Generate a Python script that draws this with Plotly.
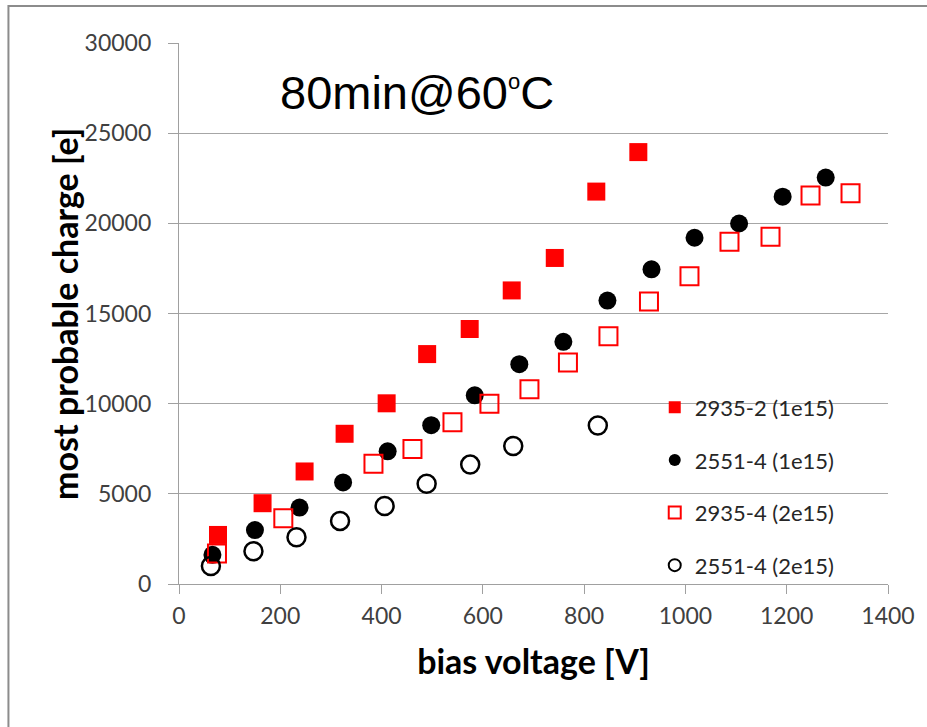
import plotly.graph_objects as go

# ---- data ----
v_2935_2 = [77, 165, 248, 327, 410, 490, 574, 657, 742, 824, 907]
q_2935_2 = [2720, 4480, 6240, 8330, 10020, 12750, 14140, 16280, 18080, 21760, 23950]

v_2551_4a = [66, 150, 238, 324, 412, 498, 584, 672, 759, 846, 933, 1018, 1106, 1192, 1277]
q_2551_4a = [1620, 2990, 4240, 5630, 7360, 8810, 10460, 12190, 13430, 15720, 17450, 19200, 19990, 21480, 22540]

v_2935_4 = [75, 206, 384, 461, 540, 613, 692, 768, 848, 928, 1008, 1087, 1168, 1247, 1326]
q_2935_4 = [1690, 3645, 6670, 7490, 8970, 10000, 10800, 12285, 13735, 15665, 17060, 18975, 19250, 21540, 21670]

v_2551_4b = [63, 147, 232, 318, 406, 489, 575, 660, 827]
q_2551_4b = [1000, 1820, 2590, 3500, 4330, 5560, 6620, 7650, 8790]

names = ["2935-2 (1e15)", "2551-4 (1e15)", "2935-4 (2e15)", "2551-4 (2e15)"]
x_ticks = [0, 200, 400, 600, 800, 1000, 1200, 1400]
y_ticks = [0, 5000, 10000, 15000, 20000, 25000, 30000]
y_ticktext = [str(t) for t in y_ticks]
x_ticktext = [str(t) for t in x_ticks]

W, H = 927, 727
ML, MR, MT, MB = 179, 33, 43, 143

fig = go.Figure()
fig.add_trace(go.Scatter(x=v_2935_2, y=q_2935_2, mode="markers", name=names[0], legendgroup="a",
                         marker=dict(symbol="square", size=18, color="#ff0000", line=dict(width=0))))
fig.add_trace(go.Scatter(x=v_2551_4a, y=q_2551_4a, mode="markers", name=names[1], legendgroup="b",
                         marker=dict(symbol="circle", size=18, color="#000000", line=dict(width=0))))
fig.add_trace(go.Scatter(x=v_2935_4, y=q_2935_4, mode="markers", name=names[2], legendgroup="c",
                         marker=dict(symbol="square-open", size=18, color="#ff0000", line=dict(width=2))))
fig.add_trace(go.Scatter(x=v_2551_4b, y=q_2551_4b, mode="markers", name=names[3], legendgroup="d",
                         marker=dict(symbol="circle-open", size=18, color="#000000", line=dict(width=2.5))))

pw = W - ML - MR
ph = H - MT - MB
# outer frame (left at x=7px, top at y=6px)
fx0 = (7 - ML) / pw
fy1 = (H - MB - 6) / ph

fig.update_layout(
    width=W, height=H,
    margin=dict(l=ML, r=MR, t=MT, b=MB, pad=0),
    paper_bgcolor="white", plot_bgcolor="white",
    font=dict(family="Lato", color="#404040"),
    showlegend=True,
    legend=dict(x=0.671, y=0.365, xanchor="left", yanchor="top",
                font=dict(family="Lato", size=22, color="#262626"),
                bgcolor="rgba(0,0,0,0)", itemsizing="constant",
                tracegroupgap=21, traceorder="grouped"),
    xaxis=dict(range=[0, 1400], tickvals=x_ticks, ticktext=x_ticktext, showgrid=False, zeroline=False,
               showline=True, linecolor="#a0a0a0", linewidth=1.3,
               ticks="outside", ticklen=9, tickcolor="#a0a0a0", tickwidth=1.3,
               ticklabelstandoff=2,
               tickfont=dict(family="Lato", size=23, color="#404040"),
               title=dict(text="<b>bias voltage [V]</b>", font=dict(family="Lato", size=34, color="#000000"),
                          standoff=22)),
    yaxis=dict(range=[0, 30000], tickvals=y_ticks, ticktext=y_ticktext, showgrid=True,
               gridcolor="#a6a6a6", gridwidth=1.3,
               zeroline=False, showline=True, linecolor="#a0a0a0", linewidth=1.3,
               ticks="outside", ticklen=10, tickcolor="#a0a0a0", tickwidth=1.3,
               ticklabelstandoff=12,
               tickfont=dict(family="Lato", size=23, color="#404040")),
    annotations=[
        dict(text="80min@60<sup><span style='font-size:22px'>o</span></sup>C",
             xref="paper", yref="paper",
             x=(419 - ML) / pw, y=(H - MB - 92) / ph, xanchor="center", yanchor="middle",
             showarrow=False, font=dict(family="Liberation Sans", size=47, color="#000000")),
        dict(text="<b>most probable charge [e]</b>", xref="paper", yref="paper",
             x=(63 - ML) / pw, y=(H - MB - 314) / ph, xanchor="center", yanchor="middle",
             textangle=-90, showarrow=False,
             font=dict(family="Lato", size=34, color="#000000")),
    ],
    shapes=[dict(type="rect", xref="paper", yref="paper", x0=fx0, x1=1.2, y0=-0.4, y1=fy1,
                 line=dict(color="#8c8c8c", width=2), fillcolor="rgba(0,0,0,0)", layer="below")],
)

fig.write_html("out.html")
